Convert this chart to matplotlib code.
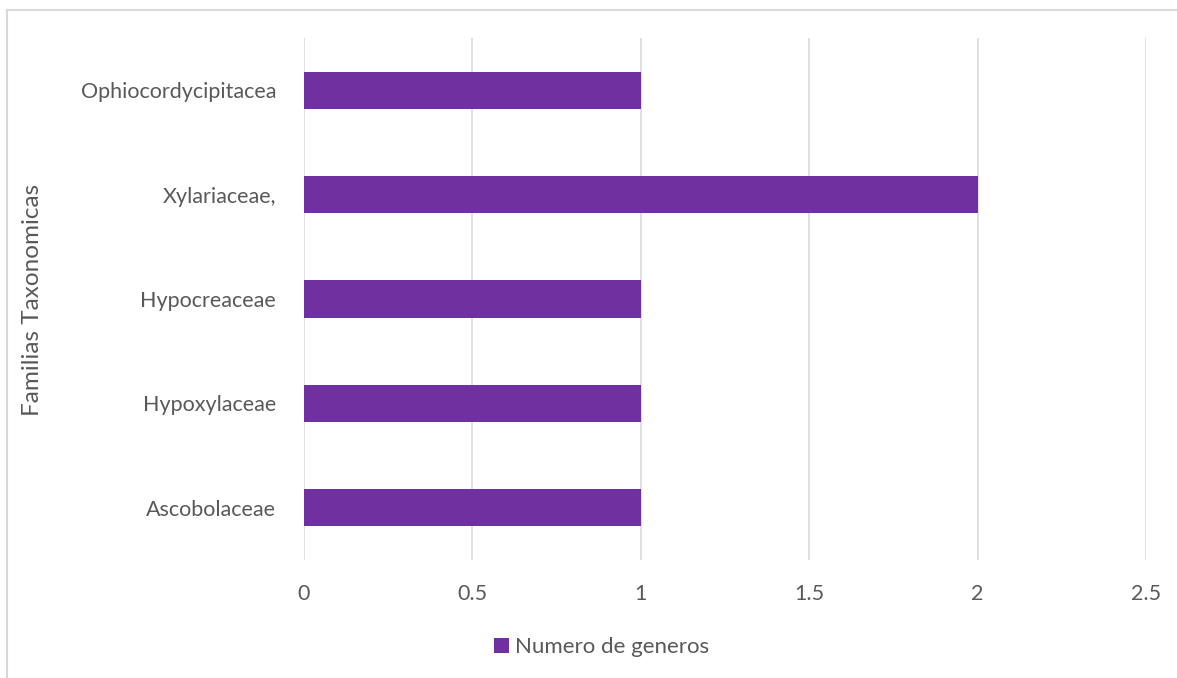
import matplotlib.pyplot as plt
from matplotlib.patches import Rectangle

# ── data ─────────────────────────────────────────────
familias = ['Ascobolaceae', 'Hypoxylaceae', 'Hypocreaceae',
            'Xylariaceae,', 'Ophiocordycipitacea']
num_generos = [1, 1, 1, 2, 1]
x_ticks = [0, 0.5, 1, 1.5, 2, 2.5]
x_tick_labels = ['0', '0.5', '1', '1.5', '2', '2.5']

plt.rcParams['font.family'] = ['Lato', 'DejaVu Sans']
txt = '#595959'
grid = '#d9d9d9'
purple = '#7030A0'

fig = plt.figure(figsize=(11.77, 6.78), dpi=100)
ax = fig.add_axes([304/1177, 1 - 560/678, (1146 - 304)/1177, (560 - 38)/678])

ax.barh(range(len(familias)), num_generos, height=0.355, color=purple,
        label='Numero de generos', zorder=3)

ax.set_xlim(0, 2.5)
ax.set_ylim(-0.5, len(familias) - 0.5)
ax.set_xticks(x_ticks)
ax.set_xticklabels(x_tick_labels)
ax.set_yticks(range(len(familias)))
ax.set_yticklabels(familias)
ax.tick_params(axis='both', length=0, labelsize=15.5, colors=txt)
ax.tick_params(axis='x', pad=17)
ax.tick_params(axis='y', pad=20)
ax.grid(axis='x', color=grid, linewidth=1.2, zorder=0)
for s in ax.spines.values():
    s.set_visible(False)

fig.text(33/1177, 1 - 300/678, 'Familias Taxonomicas', rotation=90,
         ha='center', va='center', fontsize=17.5, color=txt)

leg = fig.legend(loc='center', bbox_to_anchor=(602/1177, 1 - 647/678),
                 frameon=False, fontsize=16, handlelength=0.65,
                 handleheight=0.65, handletextpad=0.3)
for t in leg.get_texts():
    t.set_color(txt)

# outer chart border (cropped on right/bottom)
fig.patches.append(Rectangle((7/1177, -0.1), 1.2, 1 - 10/678 + 0.1,
                             transform=fig.transFigure, fill=False,
                             edgecolor=grid, linewidth=1.5))

fig.savefig('out.png', dpi=100)
